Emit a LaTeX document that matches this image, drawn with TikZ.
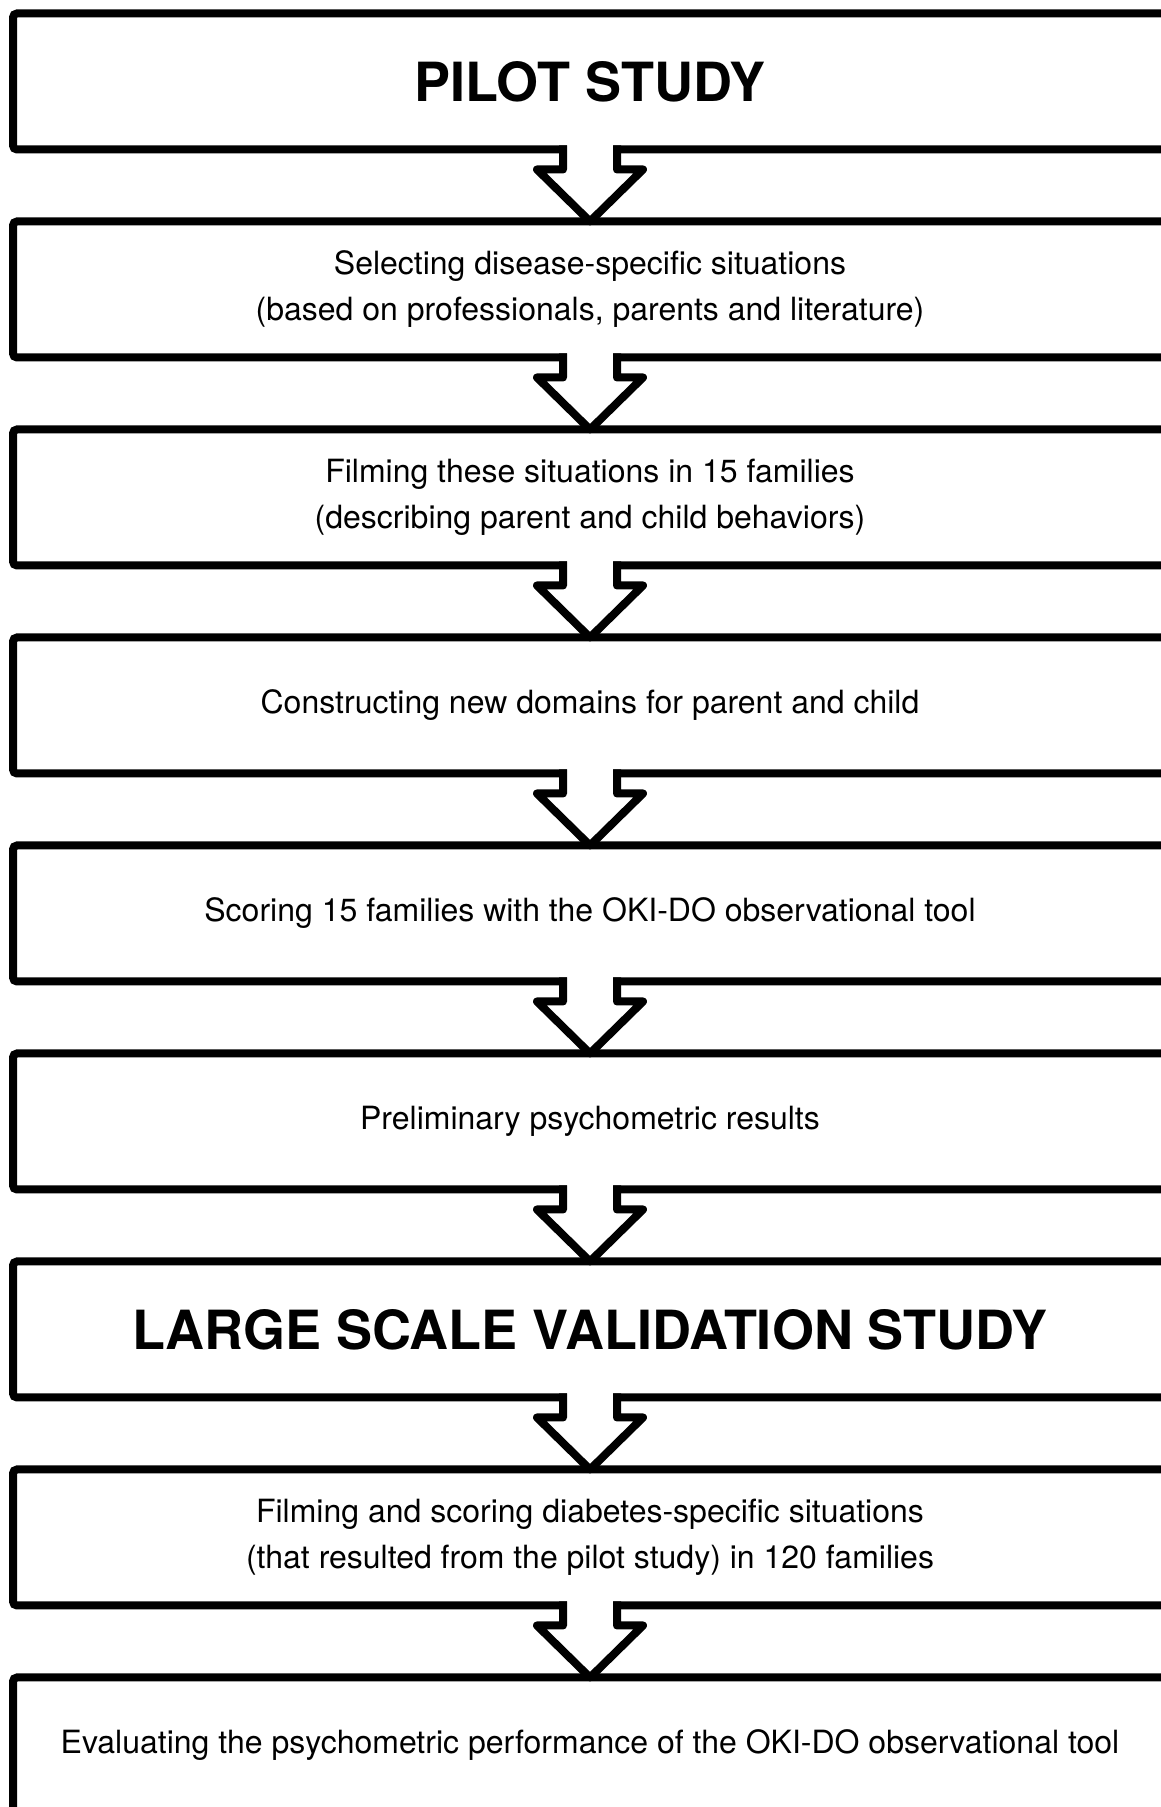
\documentclass[tikz,border=0pt]{standalone}
\usepackage{fontspec}
\setmainfont{TeX Gyre Heros}
\usetikzlibrary{positioning,calc}

\newcommand{\blockarrow}[2]{%
  \fill[white] ($(#1.south)+(-23,6)$) -- ($(#1.south)+(-23,-20)$) -- ($(#1.south)+(-53,-20)$) -- (#2.north)
    -- ($(#1.south)+(53,-20)$) -- ($(#1.south)+(23,-20)$) -- ($(#1.south)+(23,6)$) -- cycle;
  \draw[line width=8pt, line join=round] ($(#1.south)+(-27,4)$) -- ++(0,-24) -- ++(-26,0) -- (#2.north)
    -- ($(#1.south)+(53,-20)$) -- ++(-26,0) -- ++(0,24);
}

\begin{document}
\begin{tikzpicture}[x=1pt,y=1pt]
        \tikzstyle{stage}=[draw, line width=8pt, rounded corners=4pt, minimum width=1154pt, minimum height=136pt,
          outer sep=0pt, inner sep=0pt, align=center, font=\fontsize{32}{46}\selectfont]
        \tikzstyle{phase}=[stage, font=\fontsize{54}{60}\selectfont\bfseries]
        \tikzset{node distance=72pt}
        \useasboundingbox (0,0) rectangle (1161,1807);
        \fill[white] (0,0) rectangle (1161,1807);
        \clip (0,0) rectangle (1161,1807);

        \node[phase] (pilot) at (590,1725.5) {PILOT STUDY};
        \node[stage, below=of pilot] (select) {Selecting disease-specific situations\\(based on professionals, parents and literature)};
        \node[stage, below=of select] (film) {Filming these situations in 15 families\\(describing parent and child behaviors)};
        \node[stage, below=of film] (construct) {Constructing new domains for parent and child};
        \node[stage, below=of construct] (score) {Scoring 15 families with the OKI-DO observational tool};
        \node[stage, below=of score] (prelim) {Preliminary psychometric results};
        \node[phase, below=of prelim] (large) {LARGE SCALE VALIDATION STUDY};
        \node[stage, below=of large] (filmscore) {Filming and scoring diabetes-specific situations\\(that resulted from the pilot study) in 120 families};
        \node[stage, below=of filmscore] (evaluate) {Evaluating the psychometric performance of the OKI-DO observational tool};

        \foreach \a/\b in {pilot/select, select/film, film/construct, construct/score, score/prelim,
          prelim/large, large/filmscore, filmscore/evaluate}
          {\blockarrow{\a}{\b}}
\end{tikzpicture}
\end{document}
